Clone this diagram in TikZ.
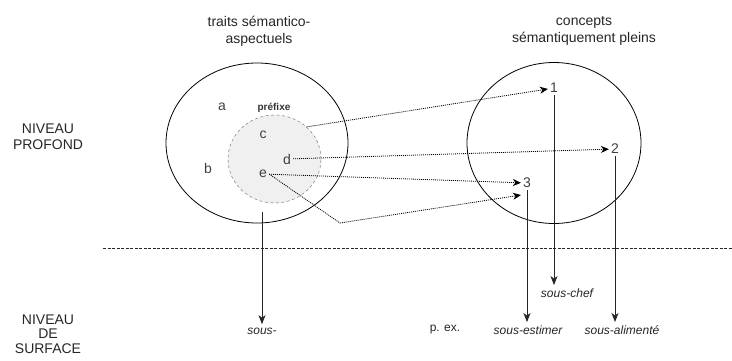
\documentclass[tikz,border=0pt]{standalone}
\usepackage{fontspec}
\setmainfont{Liberation Sans}
\usetikzlibrary{shapes.geometric, arrows.meta}

\begin{document}
\begin{tikzpicture}[x=1pt, y=-1pt,
  titel/.style={align=center, font=\fontsize{14}{17}\selectfont, text=black!85},
  niveau/.style={align=center, font=\fontsize{14}{14.5}\selectfont, text=black!85},
  lettre/.style={font=\fontsize{14}{15}\selectfont, text=black!75, inner sep=2pt},
  beispiel/.style={font=\fontsize{12}{14}\selectfont\itshape, text=black!85},
  punkt/.style={dash pattern=on 1pt off 1pt, thick, -{Stealth[length=8pt, width=7pt, inset=2.5pt]}},
  pfeil/.style={thick, black!85, -{Stealth[length=9pt, width=7pt, inset=2.5pt]}}]
\useasboundingbox (0,0) rectangle (732,360);

% Kreise
\node [draw, thick, ellipse, minimum width=182pt, minimum height=160pt] (traits) at (257,143){};
\node [draw, thick, ellipse, minimum width=174pt, minimum height=161pt] (concepts) at (554,143){};
\node [draw, black!60, fill=black!6, dash pattern=on 3pt off 2.5pt, ellipse, minimum width=93pt, minimum height=88pt] (prefixe) at (274.5,159){};

\node[titel] (T1) at (259,31){traits sémantico-\\aspectuels};
\node[titel] (T2) at (584,31){concepts\\sémantiquement pleins};
\node[niveau, font=\fontsize{14}{16}\selectfont] (profond) at (48,137){NIVEAU\\PROFOND};
\node[niveau] (surface) at (48,334){NIVEAU\\DE\\SURFACE};

\node[font=\fontsize{10}{12}\selectfont\bfseries, text=black!80] (praefix) at (274,108){préfixe};
\node[lettre] (a) at (222,107){a};
\node[lettre] (b) at (208,168){b};
\node[lettre] (c) at (263,135){c};
\node[lettre] (d) at (287,159){d};
\node[lettre] (e) at (263,174){e};
\node[lettre] (n1) at (554,88){1};
\node[lettre] (n2) at (615,149){2};
\node[lettre] (n3) at (527,183){3};

% Oberflaeche
\node[beispiel] (sous) at (262,331){sous-};
\node[beispiel] (chef) at (567,293){sous-chef};
\node[beispiel] (estimer) at (528,330){sous-estimer};
\node[beispiel] (alimente) at (622,330){sous-alimenté};
\node[font=\fontsize{12}{14}\selectfont, text=black!85] (pex) at (445,330){p. ex.};

\draw[black!85, dash pattern=on 3pt off 1.5pt] (103,248) -- (732,248);

\coordinate (knick) at (340,223);
\coordinate (ziel3) at (521,195);
\coordinate (start) at (262,212);

\draw[punkt] (prefixe.45) -- (n1);
\draw[punkt] (d) -- (n2);
\draw[punkt] (e) -- (n3);
\draw[punkt] (e.east) -- (knick) -- (ziel3);

\draw[pfeil] (n1.south) -- (n1.south |- chef.north);
\draw[pfeil] (n2.south) -- (n2.south |- alimente.north);
\draw[pfeil] (n3.south) -- (n3.south |- estimer.north);
\draw[pfeil] (start) -- (start |- sous.north);

\end{tikzpicture}
\end{document}
